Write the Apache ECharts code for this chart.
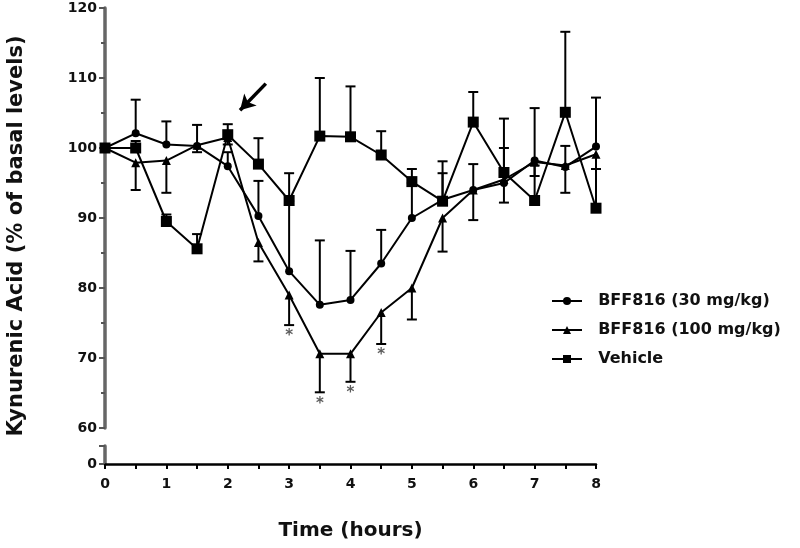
<!DOCTYPE html>
<html>
<head>
<meta charset="utf-8">
<script src="https://cdn.jsdelivr.net/npm/echarts@6/dist/echarts.min.js"></script>
<style>
html,body{margin:0;padding:0;background:#fff;}
#chart{width:800px;height:548px;}
</style>
</head>
<body>
<div id="chart"></div>
<script>
const times = [0, 0.5, 1, 1.5, 2, 2.5, 3, 3.5, 4, 4.5, 5, 5.5, 6, 6.5, 7, 7.5, 8];
const dose30 = [100, 102.1, 100.5, 100.3, 97.4, 90.3, 82.4, 77.6, 78.3, 83.5, 90.0, 92.6, 94.0, 95.0, 98.2, 97.3, 100.2];
const dose30Err = [0, 4.8, 3.3, 3.0, 2.0, 5.0, 10.0, 9.2, 7.0, 4.8, 5.0, 3.8, 3.7, 5.0, 7.5, 3.0, 7.0];
const dose100 = [100, 97.9, 98.2, 100.4, 101.5, 86.5, 79.0, 70.6, 70.6, 76.5, 80.0, 90.0, 94.0, 95.5, 98.0, 97.5, 99.1];
const dose100Err = [0, 3.9, 4.6, 1.0, 1.0, 2.7, 4.3, 5.5, 4.0, 4.5, 4.5, 4.8, 4.3, 3.3, 2.0, 3.9, 2.1];
const vehicle = [100, 100.0, 89.5, 85.6, 101.9, 97.7, 92.5, 101.7, 101.6, 99.0, 95.2, 92.4, 103.7, 96.5, 92.5, 105.1, 91.4];
const vehicleErr = [0, 1.0, 1.0, 2.1, 1.5, 3.7, 3.9, 8.3, 7.2, 3.4, 1.8, 5.7, 4.3, 7.7, 5.0, 11.5, 5.6];
const sigTimes = [3, 3.5, 4, 4.5];
const seriesNames = ['BFF816 (30 mg/kg)', 'BFF816 (100 mg/kg)', 'Vehicle'];
const yTitle = 'Kynurenic Acid (% of basal levels)';
const xTitle = 'Time (hours)';
const arrowFrom = [2.62, 109.2];
const arrowTo = [2.2, 105.4];

const FONT = 'DejaVu Sans';

function errRender(dir) {
  return function (params, api) {
    const t = api.value(0), v = api.value(1), e = api.value(2);
    if (!e) return null;
    const p0 = api.coord([t, v]);
    const p1 = api.coord([t, v + dir * e]);
    const w = 5;
    return {
      type: 'group',
      children: [
        {type: 'line', shape: {x1: p0[0], y1: p0[1], x2: p1[0], y2: p1[1]}, style: {stroke: '#000', lineWidth: 2}},
        {type: 'line', shape: {x1: p1[0] - w, y1: p1[1], x2: p1[0] + w, y2: p1[1]}, style: {stroke: '#000', lineWidth: 2}}
      ]
    };
  };
}

function pts(vals) { return times.map((t, i) => [t, vals[i]]); }
function errPts(vals, errs) { return times.map((t, i) => [t, vals[i], errs[i]]); }

const sigData = sigTimes.map(t => {
  const i = times.indexOf(t);
  return [t, dose100[i] - dose100Err[i]];
});

const chart = echarts.init(document.getElementById('chart'), null, {renderer: 'canvas'});

const lineCommon = {
  type: 'line',
  xAxisIndex: 0, yAxisIndex: 0,
  lineStyle: {color: '#000', width: 2},
  itemStyle: {color: '#000'},
  animation: false,
  z: 3
};

chart.setOption({
  animation: false,
  backgroundColor: '#fff',
  textStyle: {fontFamily: FONT},
  graphic: [
    {
      type: 'text', x: 17, y: 236, rotation: Math.PI / 2,
      style: {text: yTitle, fill: '#111', font: 'bold 21px "DejaVu Sans"', align: 'center', verticalAlign: 'middle'}
    }
  ],
  grid: [
    {left: 105, top: 8, width: 491, height: 420},
    {left: 105, top: 446, width: 491, height: 18}
  ],
  xAxis: [
    {gridIndex: 0, type: 'value', min: 0, max: 8, show: false},
    {
      gridIndex: 1, type: 'value', min: 0, max: 8, interval: 0.5,
      axisLine: {show: true, onZero: false, lineStyle: {color: '#000', width: 2.5}},
      axisTick: {show: true, length: 5, lineStyle: {color: '#000', width: 2}},
      axisLabel: {
        color: '#111', fontFamily: FONT, fontWeight: 'bold', fontSize: 14, margin: 13,
        formatter: v => (v % 1 === 0 ? String(v) : '')
      },
      splitLine: {show: false},
      name: xTitle, nameLocation: 'middle', nameGap: 57,
      nameTextStyle: {color: '#111', fontFamily: FONT, fontWeight: 'bold', fontSize: 20}
    }
  ],
  yAxis: [
    {
      gridIndex: 0, type: 'value', min: 60, max: 120, interval: 10,
      axisLine: {show: true, lineStyle: {color: '#666', width: 3.5}},
      axisTick: {show: true, length: 6, lineStyle: {color: '#555', width: 2}},
      minorTick: {show: true, splitNumber: 2, length: 4, lineStyle: {color: '#555', width: 2}},
      axisLabel: {color: '#111', fontFamily: FONT, fontWeight: 'bold', fontSize: 14, margin: 8},
      splitLine: {show: false}
    },
    {
      gridIndex: 1, type: 'value', min: 0, max: 1, interval: 1,
      axisLine: {show: true, lineStyle: {color: '#666', width: 3.5}},
      axisTick: {show: true, length: 6, lineStyle: {color: '#555', width: 2}},
      axisLabel: {color: '#111', fontFamily: FONT, fontWeight: 'bold', fontSize: 14, margin: 8,
        formatter: v => (v === 0 ? '0' : '')},
      splitLine: {show: false}
    }
  ],
  legend: {
    orient: 'vertical', left: 546, top: 288,
    itemWidth: 30, itemHeight: 10, itemGap: 13,
    data: seriesNames,
    formatter: n => '  ' + n,
    textStyle: {color: '#111', fontFamily: FONT, fontWeight: 'bold', fontSize: 16},
    inactiveColor: '#000'
  },
  series: [
    {type: 'custom', xAxisIndex: 0, yAxisIndex: 0, renderItem: errRender(1), data: errPts(dose30, dose30Err), encode: {x: 0, y: 1}, z: 2, silent: true},
    {type: 'custom', xAxisIndex: 0, yAxisIndex: 0, renderItem: errRender(-1), data: errPts(dose100, dose100Err), encode: {x: 0, y: 1}, z: 2, silent: true},
    {type: 'custom', xAxisIndex: 0, yAxisIndex: 0, renderItem: errRender(1), data: errPts(vehicle, vehicleErr), encode: {x: 0, y: 1}, z: 2, silent: true},
    Object.assign({}, lineCommon, {name: seriesNames[0], data: pts(dose30), symbol: 'circle', symbolSize: 8}),
    Object.assign({}, lineCommon, {name: seriesNames[1], data: pts(dose100), symbol: 'triangle', symbolSize: 9}),
    Object.assign({}, lineCommon, {
      name: seriesNames[2], data: pts(vehicle), symbol: 'rect', symbolSize: 11,
      markLine: {
        silent: true, animation: false,
        symbol: ['none', 'arrow'], symbolSize: [13, 15],
        lineStyle: {color: '#000', width: 3.5, type: 'solid'},
        label: {show: false},
        data: [[{coord: arrowFrom}, {coord: arrowTo}]]
      }
    }),
    {
      type: 'scatter', xAxisIndex: 0, yAxisIndex: 0, data: sigData,
      symbolSize: 0, silent: true,
      label: {show: true, position: 'bottom', distance: 4, formatter: '*', color: '#333', fontSize: 15, fontWeight: 'bold', fontFamily: FONT}
    }
  ]
});
</script>
</body>
</html>
